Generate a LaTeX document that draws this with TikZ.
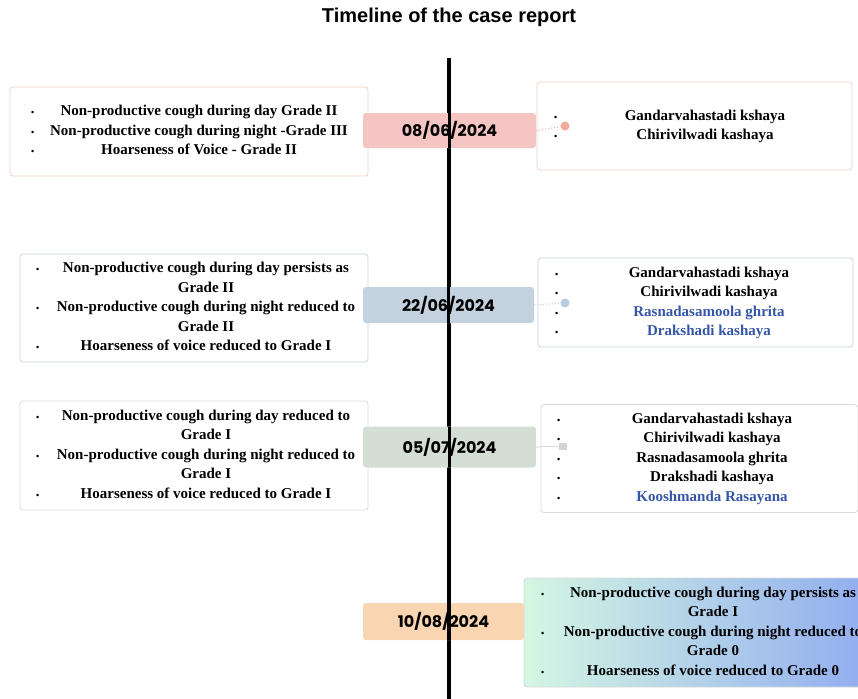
\documentclass[tikz,border=0pt]{standalone}
\usepackage{fontspec}
\setmainfont{Liberation Serif}
\newfontfamily\datefont{Poppins}
\newfontfamily\titlefont{Liberation Sans}
\usepackage{array}
\usetikzlibrary{positioning}

\definecolor{pinkdate}{HTML}{F5C5C3}
\definecolor{pinkline}{HTML}{EFD0C4}
\definecolor{pinkdot}{HTML}{F2A997}
\definecolor{bluedate}{HTML}{C4D2DF}
\definecolor{blueline}{HTML}{C5D3DF}
\definecolor{bluedot}{HTML}{B8CCE0}
\definecolor{greendate}{HTML}{D4DED5}
\definecolor{greenline}{HTML}{D6DAD8}
\definecolor{greendot}{HTML}{D0D5D2}
\definecolor{peachdate}{HTML}{F9D5B1}
\definecolor{mintfill}{HTML}{D4F6E2}
\definecolor{skyfill}{HTML}{8AA5F1}
\definecolor{medblue}{HTML}{3556A6}

\newcolumntype{Q}[3]{@{\hspace{#1pt}}p{10pt}@{}>{\centering\arraybackslash}p{#2pt}@{\hspace{#3pt}}}
\newcommand{\bul}{{\fontsize{9}{9}\selectfont\textbullet}}
\newcommand{\added}[1]{\leavevmode\textcolor{medblue}{#1}}

\begin{document}
\begin{tikzpicture}[x=1pt, y=-1pt]
  \tikzstyle{axis}=[line width=3.5pt, black]
  \tikzstyle{card}=[draw=#1, line width=0.8pt, rounded corners=3pt, inner sep=0pt,
    font=\bfseries\fontsize{15}{19.5}\selectfont]
  \tikzstyle{datebox}=[fill=#1, rounded corners=3pt, inner sep=0pt,
    font=\datefont\bfseries\fontsize{16}{18}\selectfont]
  \tikzstyle{dot}=[circle, fill=#1, minimum size=9pt, inner sep=0pt]
  \useasboundingbox (0,0) rectangle (858,698);

  \node[font=\titlefont\bfseries\fontsize{20}{24}\selectfont] (title) at (449,17) {Timeline of the case report};
  \coordinate (top) at (449,58);
  \coordinate (bot) at (449,700);
  \draw[axis] (top) -- (bot);

  % 08/06/2024
  \node[card=pinkline, minimum width=358, minimum height=89] (symp1) at (189,131.5) {%
    \begin{tabular}{Q{21}{316}{11}}
      \bul & Non-productive cough during day Grade II\\
      \bul & Non-productive cough during night -Grade III\\
      \bul & Hoarseness of Voice - Grade II
    \end{tabular}};
  \node[card=pinkline, minimum width=315, minimum height=88] (med1) at (694.5,126) {%
    \begin{tabular}{Q{17}{282}{6}}
      \bul & Gandarvahastadi kshaya\\
      \bul & Chirivilwadi kashaya
    \end{tabular}};
  \node[datebox=pinkdate, minimum width=173, minimum height=35,
    path picture={\draw[axis] (path picture bounding box.north) -- (path picture bounding box.south);}]
    (date1) at (449.5,130.5) {08/06/2024};
  \node[dot=pinkdot] (dot1) at (565,126) {};
  \draw[pinkdot, line width=1pt, dotted] (date1.east) -- (dot1);

  % 22/06/2024
  \node[card=blueline, minimum width=348, minimum height=108] (symp2) at (194,308) {%
    \begin{tabular}{Q{16}{320}{2}}
      \bul & Non-productive cough during day persists as\\
           & Grade II\\
      \bul & Non-productive cough during night reduced to\\
           & Grade II\\
      \bul & Hoarseness of voice reduced to Grade I
    \end{tabular}};
  \node[card=blueline, minimum width=315, minimum height=89] (med2) at (695.5,302.5) {%
    \begin{tabular}{Q{17}{288}{0}}
      \bul & Gandarvahastadi kshaya\\
      \bul & Chirivilwadi kashaya\\
      \bul & \added{Rasnadasamoola ghrita}\\
      \bul & \added{Drakshadi kashaya}
    \end{tabular}};
  \node[datebox=bluedate, minimum width=171, minimum height=36,
    path picture={\draw[axis] (path picture bounding box.north) -- (path picture bounding box.south);}]
    (date2) at (448.5,305) {22/06/2024};
  \node[dot=bluedot] (dot2) at (565,303) {};
  \draw[bluedot, line width=1pt, dotted] (date2.east) -- (dot2);

  % 05/07/2024
  \node[card=greenline, minimum width=348, minimum height=109] (symp3) at (194,455.5) {%
    \begin{tabular}{Q{16}{320}{2}}
      \bul & Non-productive cough during day reduced to\\
           & Grade I\\
      \bul & Non-productive cough during night reduced to\\
           & Grade I\\
      \bul & Hoarseness of voice reduced to Grade I
    \end{tabular}};
  \node[card=greenline, minimum width=317, minimum height=108] (med3) at (699.5,458.5) {%
    \begin{tabular}{Q{16}{290}{1}}
      \bul & Gandarvahastadi kshaya\\
      \bul & Chirivilwadi kashaya\\
      \bul & Rasnadasamoola ghrita\\
      \bul & Drakshadi kashaya\\
      \bul & \added{Kooshmanda Rasayana}
    \end{tabular}};
  \node[datebox=greendate, minimum width=173, minimum height=41,
    path picture={\draw[axis] (path picture bounding box.north) -- (path picture bounding box.south);}]
    (date3) at (449.5,447) {05/07/2024};
  \node[greendot, fill, minimum width=8pt, minimum height=7pt, inner sep=0pt] (dot3) at (563,446) {};
  \draw[greendot, line width=0.8pt] (date3.east) -- (dot3);

  % 10/08/2024
  \node[card=greenline, left color=mintfill, right color=skyfill,
    minimum width=381, minimum height=109] (symp4) at (714.5,632.5) {%
    \begin{tabular}{Q{17}{324}{30}}
      \bul & Non-productive cough during day persists as\\
           & Grade I\\
      \bul & Non-productive cough during night reduced to\\
           & Grade 0\\
      \bul & Hoarseness of voice reduced to Grade 0
    \end{tabular}};
  \node[datebox=peachdate, minimum width=161, minimum height=37,
    path picture={\draw[axis] ([xshift=5.5pt]path picture bounding box.north) -- ([xshift=5.5pt]path picture bounding box.south);}]
    (date4) at (443.5,621.5) {10/08/2024};
\end{tikzpicture}
\end{document}
